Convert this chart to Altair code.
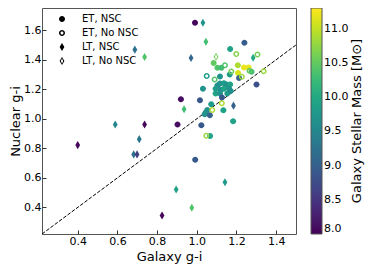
import altair as alt
import pandas as pd

# ---- data ----
et_nsc_x = [0.920, 0.903, 0.991, 1.168, 1.240, 0.992, 1.067, 1.301, 1.104, 1.124, 1.085,
            1.207, 1.238, 1.261, 1.208, 1.166, 1.213, 1.117, 1.104, 1.117, 1.137, 1.151,
            1.168, 1.095, 1.121, 1.137, 1.163, 1.095, 1.117, 1.154, 1.171, 1.031, 1.016,
            1.127, 1.073, 1.053, 1.045, 1.040, 1.134, 1.066, 1.183, 1.023, 1.276]
et_nsc_y = [1.133, 0.961, 1.650, 1.473, 1.515, 0.723, 0.883, 1.232, 1.345, 1.345, 1.378,
            1.362, 1.348, 1.348, 1.310, 1.299, 1.276, 1.287, 1.226, 1.239, 1.241, 1.232,
            1.232, 1.204, 1.197, 1.204, 1.204, 1.171, 1.171, 1.171, 1.188, 1.204, 1.126,
            1.144, 1.098, 1.060, 1.042, 1.030, 1.057, 1.024, 0.983, 0.956, 1.319]
et_nsc_m = [8.1, 8.1, 8.05, 9.9, 8.95, 8.9, 9.9, 8.8, 10.4, 10.3, 10.5,
            10.9, 11.2, 11.2, 11.1, 9.8, 9.0, 9.7, 9.6, 9.7, 9.8, 9.7,
            9.9, 9.8, 9.6, 9.9, 9.7, 9.9, 9.7, 9.8, 9.6, 9.7, 8.9,
            8.9, 9.8, 9.7, 9.6, 9.7, 9.9, 9.0, 9.9, 8.9, 10.3]

et_no_x = [1.048, 1.199, 1.306, 1.337, 1.050, 1.142, 1.174, 1.266, 1.227, 1.090, 1.126, 1.078]
et_no_y = [0.885, 1.438, 1.436, 1.322, 1.289, 1.363, 1.320, 1.325, 1.285, 1.266, 1.105, 1.060]
et_no_m = [10.8, 10.7, 10.6, 10.8, 9.8, 10.4, 10.6, 10.5, 10.8, 10.4, 10.9, 10.9]

lt_nsc_x = [0.688, 0.737, 0.589, 0.737, 0.936, 0.400, 0.682, 0.699, 0.710, 0.896, 0.825,
            0.975, 1.142, 1.031, 1.046, 0.971, 1.284, 1.185]
lt_nsc_y = [1.468, 1.418, 0.961, 0.961, 1.065, 0.822, 0.759, 0.759, 0.862, 0.521, 0.345,
            0.398, 0.570, 1.650, 1.522, 1.411, 1.413, 1.089]
lt_nsc_m = [9.2, 10.4, 9.5, 8.05, 10.3, 8.05, 9.2, 8.6, 9.3, 9.9, 8.05,
            10.4, 9.8, 9.7, 10.3, 9.1, 10.0, 9.0]

lt_no_x = [1.097]
lt_no_y = [1.420]
lt_no_m = [10.6]

categories = ["ET, NSC", "ET, No NSC", "LT, NSC", "LT, No NSC"]
one_to_one = [0.22, 1.5]
x_ticks = [0.4, 0.6, 0.8, 1.0, 1.2, 1.4]
y_ticks = [0.4, 0.6, 0.8, 1.0, 1.2, 1.4, 1.6]
cbar_ticks = [8.0, 8.5, 9.0, 9.5, 10.0, 10.5, 11.0]
cbar_title = "Galaxy Stellar Mass [M\u2299]"

rows = []
for cat, xs, ys, ms in [(categories[0], et_nsc_x, et_nsc_y, et_nsc_m),
                        (categories[1], et_no_x, et_no_y, et_no_m),
                        (categories[2], lt_nsc_x, lt_nsc_y, lt_nsc_m),
                        (categories[3], lt_no_x, lt_no_y, lt_no_m)]:
    for a, b, c in zip(xs, ys, ms):
        rows.append({"gx": a, "ny": b, "mass": c, "type": cat})
df = pd.DataFrame(rows)
line_df = pd.DataFrame({"gx": one_to_one, "ny": one_to_one})

disk = "M-1,0A1,1 0 1,0 1,0A1,1 0 1,0 -1,0Z"
ring = disk + " M-0.5,0A0.5,0.5 0 1,1 0.5,0A0.5,0.5 0 1,1 -0.5,0Z"
dia = "M0,-1.35L0.8,0L0,1.35L-0.8,0Z"
odia = dia + " M0,-0.8L-0.4,0L0,0.8L0.4,0Z"

W, H = 254, 226
FONT = "DejaVu Sans"

xs = alt.Scale(domain=[0.22, 1.5], nice=False, zero=False)
ys = alt.Scale(domain=[0.22, 1.75], nice=False, zero=False)

x_axis = alt.Axis(values=x_ticks, format=".1f", title="Galaxy g-i", grid=False, domain=False,
                  tickSize={"expr": "-4"}, tickColor="#333", labelFontSize=11, titleFontSize=13,
                  labelPadding=5, titlePadding=4, labelColor="black", titleColor="black",
                  titleFontWeight="normal", labelFont=FONT, titleFont=FONT, labelOverlap=False)
y_axis = alt.Axis(values=y_ticks, format=".1f", title="Nuclear g-i", grid=False, domain=False,
                  tickSize={"expr": "-4"}, tickColor="#333", labelFontSize=11, titleFontSize=13,
                  labelPadding=5, titlePadding=1, labelColor="black", titleColor="black",
                  titleFontWeight="normal", labelFont=FONT, titleFont=FONT, labelOverlap=False)

line = alt.Chart(line_df).mark_line(color="black", strokeDash=[3.7, 1.6], strokeWidth=1).encode(
    x=alt.X("gx:Q", scale=xs, axis=x_axis),
    y=alt.Y("ny:Q", scale=ys, axis=y_axis),
)

points = alt.Chart(df).mark_point(filled=True, size=36, opacity=1, strokeWidth=0).encode(
    x=alt.X("gx:Q", scale=xs, axis=x_axis),
    y=alt.Y("ny:Q", scale=ys, axis=y_axis),
    color=alt.Color("mass:Q", scale=alt.Scale(scheme="viridis", domain=[8.0, 11.3], nice=False, zero=False),
                    legend=alt.Legend(orient="none", legendX=269, legendY=0, direction="vertical",
                                      gradientLength=H, gradientThickness=11, values=cbar_ticks,
                                      format=".1f", title=None, labelFontSize=11, labelOverlap=False,
                                      gradientStrokeColor="#555", gradientStrokeWidth=1,
                                      labelBaseline="middle", labelFont=FONT, labelColor="black")),
    shape=alt.Shape("type:N", scale=alt.Scale(domain=categories, range=[disk, ring, dia, odia]),
                    legend=alt.Legend(orient="none", legendX=15, legendY=6, title=None,
                                      labelFontSize=10, symbolSize=36, symbolFillColor="black",
                                      symbolStrokeWidth=0, labelOffset=15, rowPadding=4,
                                      labelFont=FONT, labelColor="black")),
)

title_txt = alt.Chart(pd.DataFrame({"t": [cbar_title]})).mark_text(
    angle=270, fontSize=13, font=FONT, color="black", align="center", baseline="middle"
).encode(x=alt.value(315), y=alt.value(H / 2), text="t:N")

chart = alt.layer(line, points, title_txt).properties(
    width=W, height=H,
    autosize=alt.AutoSizeParams(type="none"),
    padding={"left": 34, "top": 0, "right": 70, "bottom": 30},
).configure_view(stroke="#555", strokeWidth=1).configure_legend(
    symbolBaseFillColor="black", symbolBaseStrokeColor="black"
).configure_axis(labelOverlap=False)

chart.save("out.html", embed_options={"renderer": "svg", "actions": False})
